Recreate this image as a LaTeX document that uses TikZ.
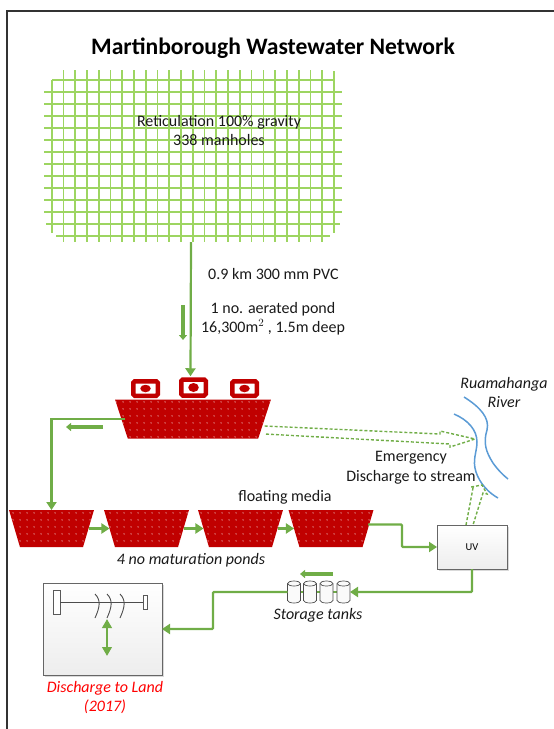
\documentclass[tikz,border=0pt]{standalone}
\usepackage{fontspec}
\setmainfont{Carlito}
\usetikzlibrary{shapes.geometric, arrows.meta, positioning, calc, patterns.meta, backgrounds, shadows}
\definecolor{flowgreen}{RGB}{112, 173, 71}
\definecolor{gridgreen}{RGB}{146, 208, 80}
\definecolor{pondred}{RGB}{192, 0, 0}
\definecolor{riverblue}{RGB}{91, 155, 213}
\tikzset{
  pondnode/.style={trapezium, shape border rotate=180, trapezium stretches=true, inner sep=0pt, outer sep=0pt, fill=pondred, postaction={pattern={Dots[radius=0.6pt, distance=6.5pt]}, pattern color=white}},
  bigpond/.style={pondnode, trapezium angle=82.6, minimum width=156pt, minimum height=39pt},
  matpond/.style={pondnode, trapezium angle=77, minimum width=85pt, minimum height=37pt},
  aerbox/.style={rectangle, rounded corners=1.5pt, draw=pondred, line width=4.5pt, fill=white, minimum width=24.5pt, minimum height=14.5pt, inner sep=0pt, outer sep=2.25pt},
  aerdot/.style={ellipse, fill=pondred, minimum width=10.5pt, minimum height=7.5pt, inner sep=0pt},
  tanknode/.style={rectangle, minimum width=13pt, minimum height=22pt, inner sep=0pt, outer sep=0pt},
  tankline/.style={draw=black!70, line width=0.7pt, fill=gray!4},
  unitbox/.style={rectangle, draw=black!60, line width=0.9pt, top color=white, bottom color=gray!14, inner sep=0pt, outer sep=0pt, drop shadow={shadow xshift=1.5pt, shadow yshift=-1.5pt, opacity=0.3, fill=gray}},
  endplug/.style={rectangle, draw=black!65, fill=white, line width=0.7pt, inner sep=0pt, outer sep=0pt},
  flowline/.style={-{Triangle[length=8pt, width=10pt]}, line width=2.2pt, flowgreen},
  pipeline/.style={line width=2.2pt, flowgreen},
  blockarrow/.style={-{Triangle[length=5pt, width=8pt]}, line width=3.5pt, flowgreen},
  dashflow/.style={dash pattern=on 3pt off 2pt, line width=1.4pt, flowgreen},
  gridline/.style={line width=1.7pt, gridgreen!90},
  river/.style={line width=1.5pt, riverblue},
  label/.style={font=\fontsize{16}{19}\selectfont, align=center, text=black!90, inner sep=0pt},
  itlabel/.style={label, font=\fontsize{16}{19}\selectfont\itshape},
}
\begin{document}
\begin{tikzpicture}[x=1pt, y=-1pt]
  \useasboundingbox (0,0) rectangle (554,729);
  \draw[line width=1.3pt, black!80] (554,11) -- (7,11) -- (7,729);
  \node[font=\fontsize{23.6}{28}\selectfont\bfseries, inner sep=0pt] (title) at (273,48) {Martinborough Wastewater Network};

  % reticulation grid
  \foreach \i in {1,...,23}
    \draw[gridline] ({51.7+11.76*\i},70) -- ({51.7+11.76*\i},242);
  \draw[gridline] (51.7,80) -- (51.7,233);
  \draw[gridline] (334,71) -- (334,233);
  \foreach \j in {1,...,11}
    \draw[gridline] (44,{80+12*\j}) -- (342,{80+12*\j});
  \draw[gridline] (52,80) -- (334,80);
  \draw[gridline] (46,224) -- (340,224);
  \draw[gridline] (56,236) -- (330,236);
  \node[minimum width=298pt, minimum height=172pt, inner sep=0pt] (gridnet) at (193,156) {};
  \node[label] (retic) at (219,130) {Reticulation 100\% gravity\\338 manholes};

  \node[label, anchor=west] (pipetxt) at (208,274) {0.9 km 300 mm PVC};
  \node[label] (pondtxt) at (273,319) {1 no. aerated pond\\16,300m$^{2}$ , 1.5m deep};

  % aerated pond and aerators
  \node[bigpond] (pondmain) at (193,419) {\phantom{M}};
  \node[aerbox] (aer1) at (145.5,388.5) {};
  \node[aerbox, minimum height=16pt] (aer2) at (193.5,387.5) {};
  \node[aerbox] (aer3) at (244.5,388.5) {};
  \node[aerdot] at (aer1) (dot1) {};
  \node[aerdot, minimum height=9pt] at (aer2) (dot2) {};
  \node[aerdot] at (aer3) (dot3) {};

  % maturation ponds
  \node[matpond] (mat1) at (51.5,528.5) {\phantom{M}};
  \node[matpond] (mat2) at (146.5,528.5) {\phantom{M}};
  \node[matpond] (mat3) at (240.5,528.5) {\phantom{M}};
  \node[matpond] (mat4) at (331,528.5) {\phantom{M}};
  \node[label] (floattxt) at (285,497) {floating media};
  \node[itlabel] (mattxt) at (191,560) {4 no maturation ponds};

  \node[unitbox, minimum width=70pt, minimum height=44pt, font=\fontsize{10.5}{12}\selectfont] (uv) at (472,547) {UV};

  % storage tanks
  \node[tanknode] (tank1) at (294,592) {};
  \node[tanknode] (tank2) at (310,592) {};
  \node[tanknode] (tank3) at (326.5,592) {};
  \node[tanknode] (tank4) at (343.5,592) {};
  \foreach \t in {1,2,3,4} {
    \draw[tankline] ([yshift=-2.5pt]tank\t.north west) arc[x radius=6.5pt, y radius=2.5pt, start angle=180, end angle=0] -- ([yshift=2.5pt]tank\t.south east) arc[x radius=6.5pt, y radius=2.5pt, start angle=0, end angle=-180] -- cycle;
    \draw[tankline, fill=none] ([yshift=-2.5pt]tank\t.north west) arc[x radius=6.5pt, y radius=2.5pt, start angle=180, end angle=360];
  }
  \node[itlabel] (tanktxt) at (318,615) {Storage tanks};

  % discharge to land
  \node[unitbox, minimum width=119pt, minimum height=92pt] (land) at (102.5,629) {};
  \node[endplug, minimum width=7pt, minimum height=24pt] (plugA) at (56.5,602) {};
  \node[endplug, minimum width=4pt, minimum height=14pt] (plugB) at (145,602) {};
  \draw[line width=0.9pt, black!70] (plugA) -- (plugB);
  \foreach \x in {95,107,120}
    \draw[line width=0.9pt, black!70] (\x,594) .. controls ({\x+6},600) and ({\x+5},607) .. (\x,618);
  \coordinate (wetA) at (107,619);
  \coordinate (wetB) at (107,656);
  \draw[{Triangle[length=9pt, width=9.5pt]}-{Triangle[length=9pt, width=9.5pt]}, line width=2.4pt, flowgreen] (wetA) -- (wetB);
  \node[itlabel, text=red] (landtxt) at (105,697.5) {Discharge to Land\\(2017)};

  % river
  \draw[river] (464,397) .. controls (480,407) and (490,418) .. (487,430) .. controls (483,443) and (486,452) .. (493,463) .. controls (498,470) and (503,475) .. (508,479);
  \draw[river] (454,414) .. controls (468,420) and (477,430) .. (477,442) .. controls (477,452) and (472,460) .. (476,472) .. controls (480,484) and (489,493) .. (498,498);
  \node[itlabel] (rivertxt) at (504,392.5) {Ruamahanga\\River};
  \node[label, font=\fontsize{16}{20}\selectfont] (emergtxt) at (411,468) {Emergency\\Discharge to stream};

  % flows
  \draw[flowline] ([xshift=-2pt]gridnet.south) -- ([xshift=-3pt,yshift=1pt]aer2.north);
  \draw[flowline] ([xshift=4pt]pondmain.west) -| (mat1.north);
  \draw[flowline] (mat1.east) -- (mat2.west);
  \draw[flowline] (mat2.east) -- (mat3.west);
  \draw[flowline] (mat3.east) -- (mat4.west);
  \draw[flowline, rounded corners=1pt] ([yshift=4pt]mat4.east) -| (402,547) -- (uv.west);
  \draw[flowline, rounded corners=1pt] (uv.south) |- (tank4.east);
  \draw[flowline, rounded corners=1pt] (tank1.west) -- (213,592) |- (land.east);
  \begin{scope}[on background layer]
    \draw[pipeline] (tank1.center) -- (tank4.center);
  \end{scope}

  % direction arrows
  \coordinate (dirAa) at (183,305);
  \coordinate (dirAb) at (183,340);
  \draw[blockarrow] (dirAa) -- (dirAb);
  \coordinate (dirBa) at (103,427);
  \coordinate (dirBb) at (66,427);
  \draw[blockarrow] (dirBa) -- (dirBb);
  \coordinate (dirCa) at (333,574);
  \coordinate (dirCb) at (300,574);
  \draw[blockarrow] (dirCa) -- (dirCb);

  % emergency overflow
  \coordinate (rivertip) at (475,439);
  \draw[dashflow] ([yshift=-7pt]pondmain.east) -- (440,434) -- (440,431) -- (rivertip) -- (450,447) -- (450,444) -- ([yshift=-15pt]pondmain.east);
  \coordinate (uvtip) at (482,485);
  \draw[dashflow] ([xshift=-6pt]uv.north) -- (473,488) -- (471,487) -- (uvtip) -- (487,494) -- (483,493) -- ([xshift=1pt]uv.north);
\end{tikzpicture}
\end{document}
